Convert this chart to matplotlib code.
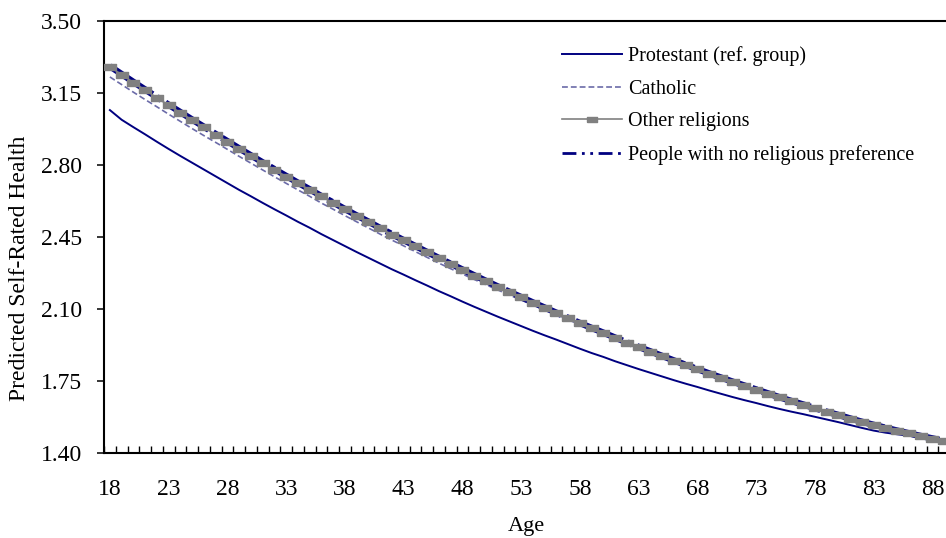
import matplotlib
matplotlib.use("Agg")
import matplotlib.pyplot as plt
from matplotlib.lines import Line2D
from matplotlib.ticker import FixedLocator, NullFormatter

ages = list(range(18, 90))

protestant = [3.067, 3.020, 2.984, 2.949, 2.913, 2.878, 2.844, 2.811, 2.778, 2.745,
              2.712, 2.679, 2.648, 2.616, 2.585, 2.555, 2.524, 2.495, 2.464, 2.435,
              2.406, 2.377, 2.349, 2.321, 2.293, 2.267, 2.240, 2.214, 2.187, 2.162,
              2.136, 2.111, 2.087, 2.063, 2.040, 2.017, 1.994, 1.972, 1.951, 1.929,
              1.907, 1.886, 1.867, 1.846, 1.827, 1.808, 1.790, 1.772, 1.754, 1.737,
              1.721, 1.704, 1.688, 1.672, 1.657, 1.643, 1.628, 1.614, 1.601, 1.589,
              1.576, 1.563, 1.550, 1.536, 1.522, 1.509, 1.499, 1.491, 1.484, 1.474,
              1.464, 1.454]

catholic = [3.228, 3.191, 3.154, 3.118, 3.083, 3.047, 3.012, 2.977, 2.943, 2.910,
            2.876, 2.842, 2.809, 2.776, 2.743, 2.711, 2.679, 2.648, 2.615, 2.585,
            2.554, 2.524, 2.494, 2.464, 2.435, 2.407, 2.379, 2.351, 2.323, 2.296,
            2.270, 2.244, 2.218, 2.193, 2.168, 2.144, 2.119, 2.096, 2.072, 2.048,
            2.024, 2.001, 1.979, 1.956, 1.933, 1.912, 1.890, 1.868, 1.847, 1.826,
            1.805, 1.785, 1.765, 1.745, 1.726, 1.707, 1.688, 1.669, 1.651, 1.634,
            1.616, 1.599, 1.583, 1.566, 1.550, 1.535, 1.522, 1.508, 1.495, 1.482,
            1.470, 1.458]

other = [3.277, 3.239, 3.201, 3.164, 3.127, 3.090, 3.054, 3.018, 2.983, 2.948,
         2.913, 2.878, 2.844, 2.810, 2.777, 2.744, 2.711, 2.679, 2.647, 2.615,
         2.584, 2.553, 2.523, 2.492, 2.462, 2.433, 2.404, 2.375, 2.346, 2.318,
         2.290, 2.262, 2.235, 2.208, 2.182, 2.156, 2.130, 2.105, 2.080, 2.055,
         2.031, 2.007, 1.984, 1.960, 1.937, 1.915, 1.893, 1.871, 1.849, 1.828,
         1.807, 1.786, 1.766, 1.746, 1.727, 1.708, 1.689, 1.670, 1.652, 1.635,
         1.617, 1.600, 1.584, 1.567, 1.551, 1.536, 1.522, 1.508, 1.495, 1.482,
         1.470, 1.458]

no_religion = [3.280, 3.242, 3.204, 3.167, 3.130, 3.093, 3.057, 3.021, 2.986, 2.951,
               2.916, 2.881, 2.847, 2.813, 2.780, 2.747, 2.714, 2.682, 2.649, 2.618,
               2.586, 2.555, 2.525, 2.494, 2.464, 2.435, 2.406, 2.377, 2.348, 2.320,
               2.292, 2.264, 2.237, 2.210, 2.184, 2.158, 2.132, 2.107, 2.082, 2.057,
               2.032, 2.008, 1.985, 1.961, 1.938, 1.916, 1.894, 1.872, 1.850, 1.829,
               1.808, 1.787, 1.767, 1.747, 1.728, 1.709, 1.690, 1.671, 1.653, 1.636,
               1.618, 1.601, 1.585, 1.568, 1.552, 1.537, 1.523, 1.509, 1.496, 1.483,
               1.471, 1.459]

labels = ["Protestant (ref. group)", "Catholic", "Other religions",
          "People with no religious preference"]
y_ticks = [1.40, 1.75, 2.10, 2.45, 2.80, 3.15, 3.50]
x_label_ages = list(range(18, 90, 5))

plt.rcParams['font.family'] = ['Liberation Serif', 'DejaVu Serif']

W, H = 946, 538
fig = plt.figure(figsize=(W / 100, H / 100), dpi=100)
left, right, top, bottom = 104, 950, 21, 453
ax = fig.add_axes([left / W, 1 - bottom / H, (right - left) / W, (bottom - top) / H])

pos = list(range(len(ages)))

navy = '#000080'
gray = '#808080'
l_prot, = ax.plot(pos, protestant, color=navy, lw=1.4, zorder=3)
l_cath, = ax.plot(pos, catholic, color='#6B6BA8', lw=1.2, ls=(0, (3.5, 1.8)), zorder=3)
ax.plot(pos, no_religion, color=navy, lw=4.6, ls=(0, (8, 0.8, 0.8, 0.8)), zorder=4)
rect = [(-1, -0.5), (1, -0.5), (1, 0.5), (-1, 0.5), (-1, -0.5)]
l_other, = ax.plot(pos, other, color=gray, lw=1.2, marker=rect, markersize=9,
                   markerfacecolor=gray, markeredgecolor=gray, zorder=5)

ax.set_xlim(-0.5, len(ages) - 0.5)
ax.set_ylim(1.40, 3.50)

ax.set_yticks(y_ticks)
ax.set_yticklabels([f"{v:.2f}" for v in y_ticks])
ax.tick_params(axis='y', direction='out', length=5, width=1.1, labelsize=17, pad=11)

ax.set_xticks([ages.index(a) for a in x_label_ages])
ax.set_xticklabels([str(a) for a in x_label_ages])
ax.tick_params(axis='x', which='major', length=0, labelsize=17, pad=19)
ax.xaxis.set_minor_locator(FixedLocator([p - 0.5 for p in pos] + [len(ages) - 0.5]))
ax.xaxis.set_minor_formatter(NullFormatter())
ax.tick_params(axis='x', which='minor', direction='in', length=5, width=1.0)

for s in ax.spines.values():
    s.set_linewidth(1.5)
    s.set_color('black')

ax.set_xlabel("Age", fontsize=16)
ax.xaxis.set_label_coords((526 - left) / (right - left), -(536 - bottom) / (bottom - top))
ax.xaxis.label.set_va('bottom')
ax.set_ylabel("Predicted Self-Rated Health", fontsize=17)
ax.yaxis.set_label_coords(-(104 - 30) / (right - left), (bottom - 268) / (bottom - top))

none_handle = Line2D([], [], color=navy, lw=2.0, ls=(0, (5, 2, 1, 2, 1, 2)))
leg = fig.legend([l_prot, l_cath, l_other, none_handle], labels, loc='upper left',
                 bbox_to_anchor=(562 / W, 1 - 46 / H), bbox_transform=fig.transFigure,
                 frameon=False, fontsize=14.5, handlelength=3.0, handletextpad=0.3,
                 labelspacing=0.68, borderpad=0, borderaxespad=0, numpoints=1,
                 markerscale=0.8)

fig.savefig("out.png", dpi=100)
